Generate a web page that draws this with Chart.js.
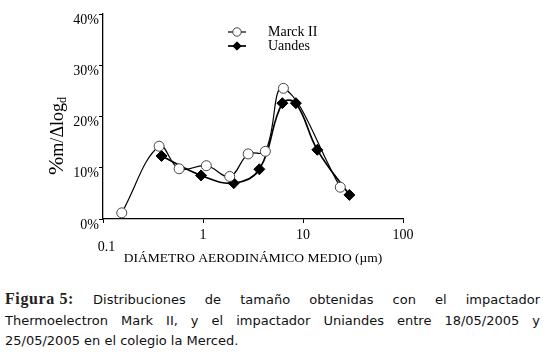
<!DOCTYPE html>
<html>
<head>
<meta charset="utf-8">
<script src="https://cdn.jsdelivr.net/npm/chart.js@4"></script>
<style>
  body { margin: 0; background: #fff; width: 545px; height: 354px; position: relative; overflow: hidden; }
  #wrap { position: absolute; left: 0; top: 0; width: 545px; height: 272px; }
  .cap { position: absolute; left: 5px; width: 535px; font-family: "DejaVu Sans", sans-serif; font-size: 13px; line-height: 21px; color: #111; }
  .just { text-align: justify; text-align-last: justify; }
  .fig { display: inline-block; font-family: "Liberation Serif", serif; font-weight: bold; font-size: 16px; letter-spacing: 0.6px; color: #222; }
</style>
</head>
<body>
<div id="wrap"><canvas id="myChart" width="545" height="272"></canvas></div>
<div class="cap just" style="top:288px"><span class="fig">Figura&nbsp;5:</span> Distribuciones de tamaño obtenidas con el impactador</div>
<div class="cap just" style="top:310px">Thermoelectron Mark II, y el impactador Uniandes entre 18/05/2005 y</div>
<div class="cap" style="top:330px">25/05/2005 en el colegio la Merced.</div>
<script>
const seriesNames = ["Marck II", "Uandes"];
const marckX = [0.154, 0.364, 0.577, 1.08, 1.85, 2.83, 4.2, 6.37, 23.6];
const marckY = [1.2, 14.2, 9.8, 10.4, 8.3, 12.7, 13.2, 25.5, 6.2];
const uandesX = [0.385, 0.957, 2.03, 3.66, 6.22, 8.49, 13.9, 29.1];
const uandesY = [12.3, 8.5, 7.0, 9.7, 22.6, 22.6, 13.5, 4.7];
const xTicks = [0.1, 1, 10, 100];
const yTicks = [0, 10, 20, 30, 40];

const serif = "'Liberation Serif', 'Times New Roman', serif";
const ctx = document.getElementById("myChart");

const toPoints = (xs, ys) => xs.map((x, i) => ({ x: x, y: ys[i] }));

// y title with big % and subscript d, plus the small legend
const extras = {
  id: "extras",
  afterDatasetsDraw(chart) {
    const c = chart.ctx;
    c.save();
    c.fillStyle = "#000";
    c.translate(57, 136);
    c.rotate(-Math.PI / 2);
    c.textBaseline = "alphabetic";
    const parts = [["%", "22px ", 0], ["m/\u0394log", "18px ", 0], ["d", "12px ", 3]];
    let total = 0;
    parts.forEach(p => { c.font = p[1] + serif; total += c.measureText(p[0]).width; });
    let x0 = -total / 2;
    parts.forEach(p => {
      c.font = p[1] + serif;
      c.fillText(p[0], x0, 6 + p[2]);
      x0 += c.measureText(p[0]).width;
    });
    c.restore();

    chart.data.datasets.forEach((ds, i) => {
      const y = 32 + i * 14;
      c.save();
      c.strokeStyle = "#000";
      c.lineWidth = ds.borderWidth;
      c.beginPath();
      c.moveTo(228, y);
      c.lineTo(246, y);
      c.stroke();
      c.fillStyle = ds.pointBackgroundColor;
      c.strokeStyle = ds.pointBorderColor;
      c.lineWidth = 1;
      Chart.helpers.drawPoint(c, { pointStyle: ds.pointStyle, radius: 4.2, rotation: 0, borderWidth: 1 }, 237, y);
      c.fillStyle = "#000";
      c.font = "14px " + serif;
      c.textBaseline = "middle";
      c.fillText(ds.label, 268, y);
      c.restore();
    });
  }
};

new Chart(ctx, {
  type: "line",
  data: {
    datasets: [
      {
        label: seriesNames[0],
        data: toPoints(marckX, marckY),
        borderColor: "#000",
        borderWidth: 1.2,
        tension: 0.4,
        pointStyle: "circle",
        pointRadius: 5,
        pointBackgroundColor: "#fff",
        pointBorderColor: "#444",
        pointBorderWidth: 1
      },
      {
        label: seriesNames[1],
        data: toPoints(uandesX, uandesY),
        borderColor: "#000",
        borderWidth: 1.7,
        tension: 0.4,
        pointStyle: "rectRot",
        pointRadius: 5.5,
        pointBackgroundColor: "#000",
        pointBorderColor: "#000",
        pointBorderWidth: 1
      }
    ]
  },
  options: {
    responsive: false,
    animation: false,
    layout: { padding: { left: 0, right: 142, top: 14, bottom: 0 } },
    plugins: { legend: { display: false }, tooltip: { enabled: false } },
    scales: {
      x: {
        type: "logarithmic",
        min: 0.1,
        max: 100,
        afterBuildTicks: s => { s.ticks = xTicks.map(v => ({ value: v })); },
        afterFit: s => { s.height = 53; },
        grid: { drawOnChartArea: false, tickLength: 4, color: "#000" },
        border: { color: "#000", width: 1.3 },
        ticks: {
          color: "#000",
          padding: 4,
          maxRotation: 0,
          autoSkip: false,
          font: c => (c.tick && c.tick.value === 0.1)
            ? { family: serif, size: 14, lineHeight: 0.95 }
            : { family: serif, size: 14, lineHeight: 1.2 },
          callback: v => v === 0.1 ? ["", "  0.1"] : String(v)
        },
        title: {
          display: true,
          text: "DIÁMETRO AERODINÁMICO MEDIO (\u00b5m)",
          color: "#000",
          font: { family: serif, size: 13.5 },
          padding: { top: 0, bottom: 5 }
        }
      },
      y: {
        min: 0,
        max: 40,
        afterBuildTicks: s => { s.ticks = yTicks.map(v => ({ value: v })); },
        afterFit: s => { s.width = 103; },
        grid: { drawOnChartArea: false, tickLength: 4, color: "#000" },
        border: { color: "#000", width: 1.3 },
        ticks: {
          color: "#000",
          padding: 0,
          labelOffset: 6,
          font: { family: serif, size: 14 },
          callback: v => v + "%"
        }
      }
    }
  },
  plugins: [extras]
});
</script>
</body>
</html>
